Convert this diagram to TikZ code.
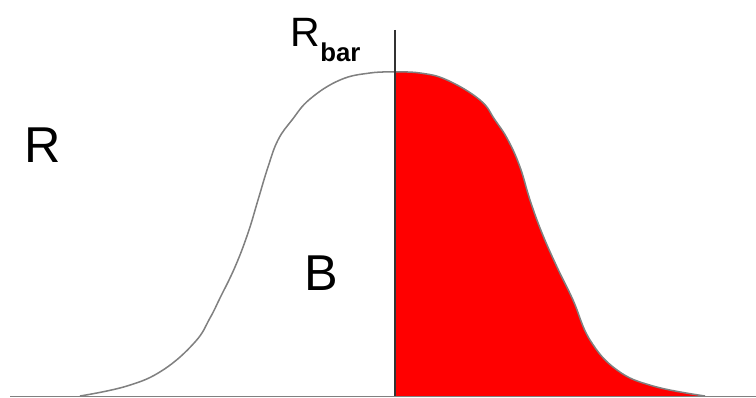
\documentclass[tikz,border=0pt]{standalone}
\usepackage{fontspec}
\setmainfont{Liberation Sans}
\usepackage{xcolor}
\usetikzlibrary{calc}
\definecolor{BellGray}{HTML}{808080}
\definecolor{BellRed}{HTML}{FF0000}
\tikzset{
  bell line/.style={BellGray,line width=1.3pt,line join=round},
  big label/.style={anchor=base west,inner sep=0pt,
    font=\fontsize{43}{43}\selectfont}
}
\begin{document}
\begin{tikzpicture}[x=0.03cm,y=-0.03cm]

        \useasboundingbox (0,0) rectangle (756,398);

        % right half of the bell, filled
        \fill[BellRed] (395,396) -- plot[smooth,tension=0.7] coordinates
          {(395,72) (420,73) (447,80) (480,100) (495,120) (508,140)
           (520,167) (530,200) (542,233) (557,267) (573,300) (590,340)
           (617,370) (653,386) (705,396)} -- cycle;

        % base line
        \draw[BellGray,line width=1.3pt] (10,396.5) -- (756,396.5);

        % the bell
        \draw[bell line] plot[smooth,tension=0.7] coordinates
          {(80,396) (127,386) (163,370) (195,342) (210,318) (220,298)
           (235,267) (248,233) (258,200) (268,167) (278,140) (292,120)
           (310,99) (340,80) (370,73) (395,72)};
        \draw[bell line] plot[smooth,tension=0.7] coordinates
          {(395,72) (420,73) (447,80) (480,100) (495,120) (508,140)
           (520,167) (530,200) (542,233) (557,267) (573,300) (590,340)
           (617,370) (653,386) (705,396)};

        % mean line
        \coordinate (top) at (395,30);
        \coordinate (foot) at (395,396);
        \draw[black!80,line width=1pt] (top) -- (foot);

        \node[big label] (r) at (24,162) {R};

        \node[big label] (b) at (304,290) {B};

        \node[anchor=base west,inner sep=0pt,
          font=\fontsize{35}{35}\selectfont]
          (rbar) at (290,47) {R};
        \node[anchor=base west,inner sep=0pt,
          font=\bfseries\fontsize{22}{22}\selectfont]
          (bar) at ($(rbar.base east)+(0,15)$) {bar};

      \end{tikzpicture}
\end{document}
